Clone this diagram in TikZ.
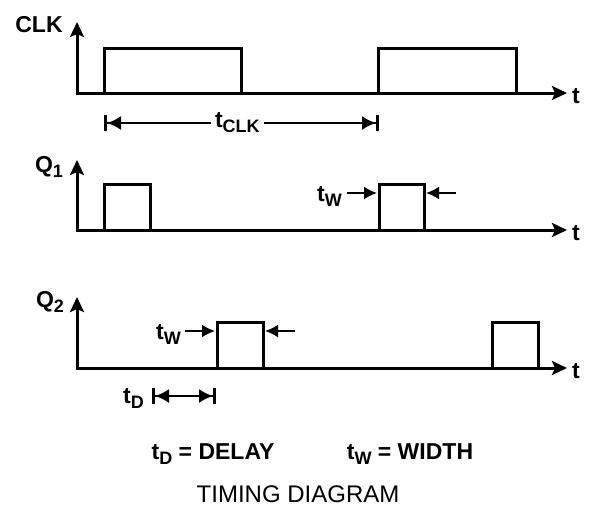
\documentclass[tikz,border=0pt]{standalone}
\usepackage{fontspec}
\setmainfont{Liberation Sans}
\usetikzlibrary{arrows.meta}

\newcommand{\lowsub}[1]{\raisebox{-5pt}{\fontsize{18}{18}\selectfont #1}}

\begin{document}
\begin{tikzpicture}[x=1pt,y=-1pt,
  every node/.style={inner sep=0pt,font=\bfseries\fontsize{23}{23}\selectfont},
  axes/.style={line width=3pt,line join=miter,
    {Stealth[length=15pt,width=14pt,inset=3pt]}-{Stealth[length=15pt,width=14pt,inset=3pt]}},
  wave/.style={line width=3pt,line join=miter},
  dimline/.style={line width=2pt,
    {Bar[width=16pt,line width=3pt,sep=0pt]Latex[length=14pt,width=14pt,sep=0pt]}-{Latex[length=14pt,width=14pt,sep=0pt]Bar[width=16pt,line width=3pt,sep=0pt]}},
  pointer/.style={line width=2pt,-{Latex[length=13pt,width=13pt]}}]
  \useasboundingbox (0,0) rectangle (593,515);

  \coordinate (clktop) at (77,22);
  \coordinate (clkorg) at (77,93);
  \coordinate (clkend) at (567,93);
  \draw[axes] (clktop) -- (clkorg) -- (clkend);
  \node (clk) at (39,25) {CLK};
  \node[anchor=west] (t1) at (572,96) {t};
  \draw[wave] (104,93) |- (241,48) -- (241,93);
  \draw[wave] (378,93) |- (516,48) -- (516,93);
  \coordinate (clka) at (104,123);
  \coordinate (clkb) at (379,123);
  \draw[dimline] (clka) -- node[pos=0.485,fill=white,inner xsep=4pt] (tclk) {t\lowsub{CLK}} (clkb);

  \coordinate (qatop) at (77,160);
  \coordinate (qaorg) at (77,230);
  \coordinate (qaend) at (567,230);
  \draw[axes] (qatop) -- (qaorg) -- (qaend);
  \node (qa) at (49,167) {Q\lowsub{1}};
  \node[anchor=west] (t2) at (572,233) {t};
  \draw[wave] (104,230) |- (150,184) -- (150,230);
  \draw[wave] (379,230) |- (424,184) -- (424,230);
  \node[anchor=east] (twa) at (342,196) {t\lowsub{W}};
  \coordinate (twal) at (347,193);
  \coordinate (twar) at (456,193);
  \draw[pointer] (twal) -- (377,193);
  \draw[pointer] (twar) -- (426,193);

  \coordinate (qbtop) at (77,297);
  \coordinate (qborg) at (77,368);
  \coordinate (qbend) at (567,368);
  \draw[axes] (qbtop) -- (qborg) -- (qbend);
  \node (qb) at (50,302) {Q\lowsub{2}};
  \node[anchor=west] (t3) at (572,371) {t};
  \draw[wave] (217,368) |- (263,322) -- (263,368);
  \draw[wave] (492,368) |- (538,322) -- (538,368);
  \node[anchor=east] (twb) at (181,334) {t\lowsub{W}};
  \coordinate (twbl) at (185,331);
  \coordinate (twbr) at (295,331);
  \draw[pointer] (twbl) -- (215,331);
  \draw[pointer] (twbr) -- (265,331);
  \coordinate (tda) at (152,396);
  \coordinate (tdb) at (216,396);
  \draw[dimline] (tda) -- (tdb);
  \node[anchor=east] (td) at (144,398) {t\lowsub{D}};

  \node (legd) at (213,454) {t\lowsub{D} = DELAY};
  \node (legw) at (410,454) {t\lowsub{W} = WIDTH};
  \node[font=\fontsize{24}{24}\selectfont] (title) at (298,494) {TIMING DIAGRAM};
\end{tikzpicture}
\end{document}
